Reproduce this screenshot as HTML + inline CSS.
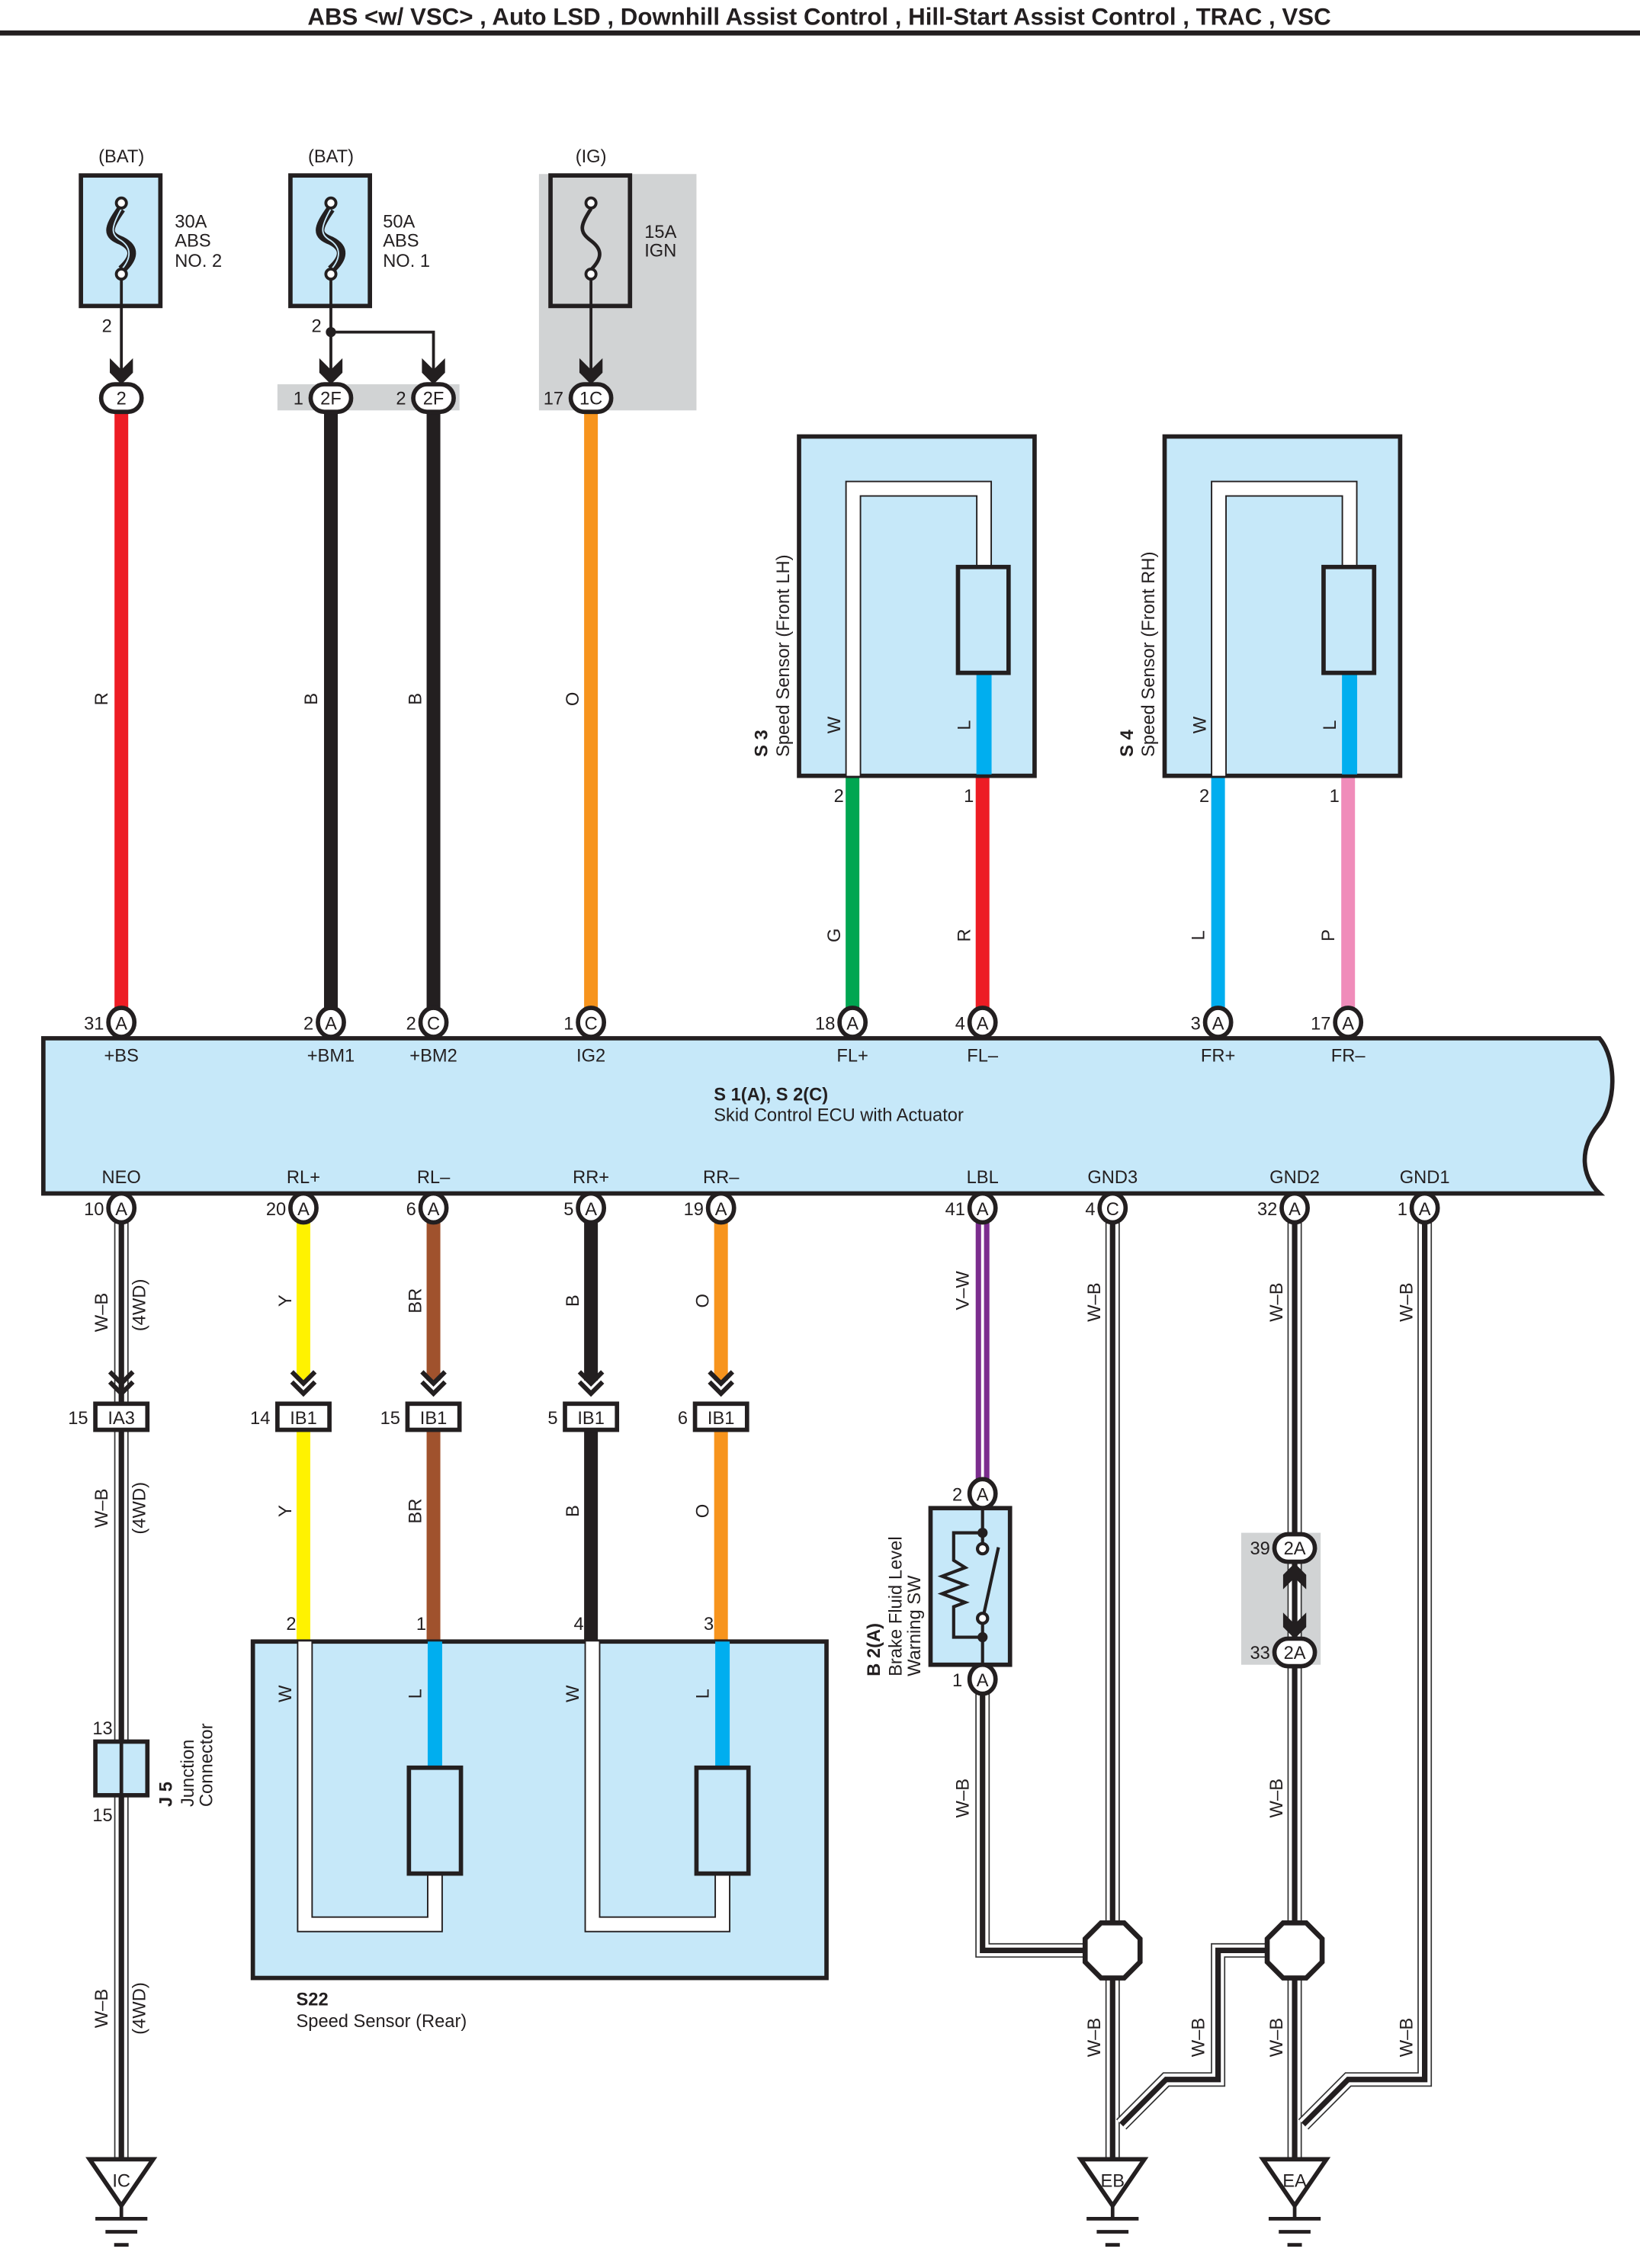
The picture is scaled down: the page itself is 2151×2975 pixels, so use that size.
<!DOCTYPE html>
<html><head><meta charset="utf-8">
<style>
html,body{margin:0;padding:0;background:#fff;}
svg{display:block;}
text{font-family:"Liberation Sans",Arial,sans-serif;font-size:12.5px;fill:#231f20;}
.b{font-weight:bold;}
.m{text-anchor:middle;}
.e{text-anchor:end;}
.bx{fill:#c6e8f9;stroke:#231f20;stroke-width:3;}
.cn ellipse,.cn rect{fill:#fff;stroke:#231f20;stroke-width:3;}
.wb1{fill:none;stroke:#333;stroke-width:10;}
.wb2{fill:none;stroke:#fff;stroke-width:8.2;}
.wb3{fill:none;stroke:#231f20;stroke-width:3.8;}
.chev{fill:none;stroke:#231f20;stroke-width:3.2;}
</style></head>
<body>
<svg width="2151" height="2975" viewBox="0 0 1135 1564" preserveAspectRatio="none" xmlns="http://www.w3.org/2000/svg">
<!-- title -->
<text x="567" y="17" class="b m" style="font-size:16.5px">ABS &lt;w/ VSC&gt; , Auto LSD , Downhill Assist Control , Hill-Start Assist Control , TRAC , VSC</text>
<rect x="0" y="21" width="1135" height="3.5" fill="#231f20"/>

<!-- gray backgrounds -->
<rect x="192" y="265" width="126" height="18" fill="#d1d3d4"/>
<rect x="373" y="120" width="109" height="163" fill="#d1d3d4"/>
<rect x="859" y="1057" width="55" height="91" fill="#d1d3d4"/>

<!-- fuses -->
<text x="84" y="112" class="m">(BAT)</text>
<text x="229" y="112" class="m">(BAT)</text>
<text x="409" y="112" class="m">(IG)</text>
<rect x="56" y="121" width="55" height="90" class="bx"/>
<rect x="201" y="121" width="55" height="90" class="bx"/>
<rect x="381" y="121" width="55" height="90" fill="#d1d3d4" stroke="#231f20" stroke-width="3"/>
<text x="121" y="157">30A</text><text x="121" y="170">ABS</text><text x="121" y="184">NO. 2</text>
<text x="265" y="157">50A</text><text x="265" y="170">ABS</text><text x="265" y="184">NO. 1</text>
<text x="446" y="164">15A</text><text x="446" y="177">IGN</text>
<g fill="none" stroke="#231f20">
<path d="M84,144 C74,158 74,162 84,166 C94,171 93,178 84,186" stroke-width="6"/>
<path d="M84,144 C76,158 77,162 84,166 C91,171 91,178 84,186" stroke="#c6e8f9" stroke-width="1"/>
<path d="M229,144 C219,158 219,162 229,166 C239,171 238,178 229,186" stroke-width="6"/>
<path d="M229,144 C221,158 222,162 229,166 C236,171 236,178 229,186" stroke="#c6e8f9" stroke-width="1"/>
<path d="M409,144 C401,156 401,160 409,166 C417,172 417,178 409,186" stroke-width="2.5"/>
<circle cx="84" cy="140" r="3.5" fill="#fff" stroke-width="2"/><circle cx="84" cy="189" r="3.5" fill="#fff" stroke-width="2"/>
<circle cx="229" cy="140" r="3.5" fill="#fff" stroke-width="2"/><circle cx="229" cy="189" r="3.5" fill="#fff" stroke-width="2"/>
<circle cx="409" cy="140" r="3.5" fill="#fff" stroke-width="2"/><circle cx="409" cy="189" r="3.5" fill="#fff" stroke-width="2"/>
<path d="M84,193 V258 M229,193 V258 M229,229 H300 V258 M409,193 V258" stroke-width="2"/>
</g>
<circle cx="229" cy="229" r="3.5" fill="#231f20"/>
<text x="74" y="229" class="m">2</text><text x="219" y="229" class="m">2</text>
<g fill="#231f20">
<polygon points="76,247 84,255 92,247 92,257 84,265 76,257"/>
<polygon points="221,247 229,255 237,247 237,257 229,265 221,257"/>
<polygon points="292,247 300,255 308,247 308,257 300,265 292,257"/>
<polygon points="401,247 409,255 417,247 417,257 409,265 401,257"/>
</g>

<!-- top wires -->
<g stroke-width="9.5" fill="none">
<path d="M84,282 V697" stroke="#ed1c24"/>
<path d="M229,282 V697" stroke="#231f20"/>
<path d="M300,282 V697" stroke="#231f20"/>
<path d="M409,282 V697" stroke="#f7941d"/>
<path d="M590,536 V697" stroke="#00a651"/>
<path d="M680,536 V697" stroke="#ed1c24"/>
<path d="M843,536 V697" stroke="#00aeef"/>
<path d="M933,536 V697" stroke="#f08cba"/>
</g>
<!-- top connector pills -->
<g class="cn">
<rect x="70" y="265" width="28" height="19" rx="9.5"/>
<rect x="215" y="265" width="28" height="19" rx="9.5"/>
<rect x="286" y="265" width="28" height="19" rx="9.5"/>
<rect x="395" y="265" width="28" height="19" rx="9.5"/>
</g>
<text x="84" y="279" class="m">2</text>
<text x="229" y="279" class="m">2F</text><text x="210" y="279" class="e">1</text>
<text x="300" y="279" class="m">2F</text><text x="281" y="279" class="e">2</text>
<text x="409" y="279" class="m">1C</text><text x="390" y="279" class="e">17</text>

<!-- wire labels top -->
<g>
<text transform="translate(74.5,482) rotate(-90)" class="m">R</text>
<text transform="translate(219.5,482) rotate(-90)" class="m">B</text>
<text transform="translate(291.5,482) rotate(-90)" class="m">B</text>
<text transform="translate(400.5,482) rotate(-90)" class="m">O</text>
<text transform="translate(581.5,645) rotate(-90)" class="m">G</text>
<text transform="translate(671.5,645) rotate(-90)" class="m">R</text>
<text transform="translate(833.5,645) rotate(-90)" class="m">L</text>
<text transform="translate(923.5,645) rotate(-90)" class="m">P</text>
</g>

<!-- S3 / S4 sensors -->
<g id="s3">
<rect x="553" y="301" width="163" height="234" class="bx"/>
<path d="M590.5,535 V337 H681 V391" fill="none" stroke="#231f20" stroke-width="11"/>
<path d="M590.5,535 V337 H681 V391" fill="none" stroke="#fff" stroke-width="9"/>
<path d="M681,464 V534" stroke="#00aeef" stroke-width="10.5"/>
<rect x="663" y="391" width="35" height="73" class="bx"/>
<text transform="translate(581.5,500) rotate(-90)" class="m">W</text>
<text transform="translate(671.5,500) rotate(-90)" class="m">L</text>
<text x="584" y="553" class="e">2</text><text x="674" y="553" class="e">1</text>
</g>
<text transform="translate(531,522) rotate(-90)" class="b">S 3</text>
<text transform="translate(546,522) rotate(-90)">Speed Sensor (Front LH)</text>
<g>
<rect x="806" y="301" width="163" height="234" class="bx"/>
<path d="M843.5,535 V337 H934 V391" fill="none" stroke="#231f20" stroke-width="11"/>
<path d="M843.5,535 V337 H934 V391" fill="none" stroke="#fff" stroke-width="9"/>
<path d="M934,464 V534" stroke="#00aeef" stroke-width="10.5"/>
<rect x="916" y="391" width="35" height="73" class="bx"/>
<text transform="translate(834.5,500) rotate(-90)" class="m">W</text>
<text transform="translate(924.5,500) rotate(-90)" class="m">L</text>
<text x="837" y="553" class="e">2</text><text x="927" y="553" class="e">1</text>
</g>
<text transform="translate(784,522) rotate(-90)" class="b">S 4</text>
<text transform="translate(799,522) rotate(-90)">Speed Sensor (Front RH)</text>

<!-- ECU -->
<path d="M30,716 H1107 C1119,730 1119,762 1106,776 C1094,790 1093,810 1107,823 H30 Z" class="bx"/>
<g>
<text x="84" y="732" class="m">+BS</text>
<text x="229" y="732" class="m">+BM1</text>
<text x="300" y="732" class="m">+BM2</text>
<text x="409" y="732" class="m">IG2</text>
<text x="590" y="732" class="m">FL+</text>
<text x="680" y="732" class="m">FL–</text>
<text x="843" y="732" class="m">FR+</text>
<text x="933" y="732" class="m">FR–</text>
<text x="494" y="759" class="b">S 1(A), S 2(C)</text>
<text x="494" y="773">Skid Control ECU with Actuator</text>
<text x="84" y="816" class="m">NEO</text>
<text x="210" y="816" class="m">RL+</text>
<text x="300" y="816" class="m">RL–</text>
<text x="409" y="816" class="m">RR+</text>
<text x="499" y="816" class="m">RR–</text>
<text x="680" y="816" class="m">LBL</text>
<text x="770" y="816" class="m">GND3</text>
<text x="896" y="816" class="m">GND2</text>
<text x="986" y="816" class="m">GND1</text>
</g>

<!-- lower wires -->
<g fill="none">
<!-- W-B wires -->
<path d="M84,843 V1490" class="wb1"/><path d="M84,843 V1490" class="wb2"/><path d="M84,843 V1490" class="wb3"/>
<path d="M770,843 V1490" class="wb1"/><path d="M770,843 V1490" class="wb2"/><path d="M770,843 V1490" class="wb3"/>
<path d="M896,843 V1490" class="wb1"/><path d="M896,843 V1490" class="wb2"/><path d="M896,843 V1490" class="wb3"/>
<path d="M680,1166 V1345 H755" class="wb1"/><path d="M680,1166 V1345 H755" class="wb2"/><path d="M680,1166 V1345 H755" class="wb3"/>
<path d="M880,1345 H843 V1434 H807 L776,1465" class="wb1"/><path d="M880,1345 H843 V1434 H807 L776,1465" class="wb2"/><path d="M880,1345 H843 V1434 H807 L776,1465" class="wb3"/>
<path d="M986,843 V1434 H933 L902,1465" class="wb1"/><path d="M986,843 V1434 H933 L902,1465" class="wb2"/><path d="M986,843 V1434 H933 L902,1465" class="wb3"/>
<!-- colored -->
<g stroke-width="9.5">
<path d="M210,843 V952 M210,986 V1131" stroke="#fff200"/>
<path d="M300,843 V952 M300,986 V1131" stroke="#a0522d"/>
<path d="M409,843 V952 M409,986 V1131" stroke="#231f20"/>
<path d="M499,843 V952 M499,986 V1131" stroke="#f7941d"/>
<path d="M680,843 V1022" stroke="#7b2d8e"/>
</g>
<path d="M680,843 V1022" stroke="#fff" stroke-width="2"/>
<path d="M210,1131 V1218 M300,1131 V1218 M409,1131 V1218 M499,1131 V1218" stroke="#00aeef" stroke-width="10"/>
</g>

<!-- chevrons -->
<g class="chev">
<path d="M76,946 L84,954 L92,946 M76,953 L84,961 L92,953"/>
<path d="M202,946 L210,954 L218,946 M202,953 L210,961 L218,953"/>
<path d="M292,946 L300,954 L308,946 M292,953 L300,961 L308,953"/>
<path d="M401,946 L409,954 L417,946 M401,953 L409,961 L417,953"/>
<path d="M491,946 L499,954 L507,946 M491,953 L499,961 L507,953"/>
</g>
<!-- IA3 / IB1 boxes -->
<g class="cn">
<rect x="66" y="968" width="36" height="18"/>
<rect x="192" y="968" width="36" height="18"/>
<rect x="282" y="968" width="36" height="18"/>
<rect x="391" y="968" width="36" height="18"/>
<rect x="481" y="968" width="36" height="18"/>
</g>
<text x="84" y="982" class="m">IA3</text><text x="61" y="982" class="e">15</text>
<text x="210" y="982" class="m">IB1</text><text x="187" y="982" class="e">14</text>
<text x="300" y="982" class="m">IB1</text><text x="277" y="982" class="e">15</text>
<text x="409" y="982" class="m">IB1</text><text x="386" y="982" class="e">5</text>
<text x="499" y="982" class="m">IB1</text><text x="476" y="982" class="e">6</text>

<!-- ECU pin connectors -->
<g class="cn">
<ellipse cx="84" cy="705" rx="9" ry="10"/><ellipse cx="229" cy="705" rx="9" ry="10"/><ellipse cx="300" cy="705" rx="9" ry="10"/><ellipse cx="409" cy="705" rx="9" ry="10"/>
<ellipse cx="590" cy="705" rx="9" ry="10"/><ellipse cx="680" cy="705" rx="9" ry="10"/><ellipse cx="843" cy="705" rx="9" ry="10"/><ellipse cx="933" cy="705" rx="9" ry="10"/>
<ellipse cx="84" cy="833" rx="9" ry="10"/><ellipse cx="210" cy="833" rx="9" ry="10"/><ellipse cx="300" cy="833" rx="9" ry="10"/><ellipse cx="409" cy="833" rx="9" ry="10"/>
<ellipse cx="499" cy="833" rx="9" ry="10"/><ellipse cx="680" cy="833" rx="9" ry="10"/><ellipse cx="770" cy="833" rx="9" ry="10"/><ellipse cx="896" cy="833" rx="9" ry="10"/><ellipse cx="986" cy="833" rx="9" ry="10"/>
<ellipse cx="680" cy="1030" rx="9" ry="10"/><ellipse cx="680" cy="1158" rx="9" ry="10"/>
<rect x="882" y="1058" width="28" height="19" rx="9.5"/><rect x="882" y="1130" width="28" height="19" rx="9.5"/>
</g>
<g>
<text x="84" y="710" class="m">A</text><text x="72" y="710" class="e">31</text>
<text x="229" y="710" class="m">A</text><text x="217" y="710" class="e">2</text>
<text x="300" y="710" class="m">C</text><text x="288" y="710" class="e">2</text>
<text x="409" y="710" class="m">C</text><text x="397" y="710" class="e">1</text>
<text x="590" y="710" class="m">A</text><text x="578" y="710" class="e">18</text>
<text x="680" y="710" class="m">A</text><text x="668" y="710" class="e">4</text>
<text x="843" y="710" class="m">A</text><text x="831" y="710" class="e">3</text>
<text x="933" y="710" class="m">A</text><text x="921" y="710" class="e">17</text>
<text x="84" y="838" class="m">A</text><text x="72" y="838" class="e">10</text>
<text x="210" y="838" class="m">A</text><text x="198" y="838" class="e">20</text>
<text x="300" y="838" class="m">A</text><text x="288" y="838" class="e">6</text>
<text x="409" y="838" class="m">A</text><text x="397" y="838" class="e">5</text>
<text x="499" y="838" class="m">A</text><text x="487" y="838" class="e">19</text>
<text x="680" y="838" class="m">A</text><text x="668" y="838" class="e">41</text>
<text x="770" y="838" class="m">C</text><text x="758" y="838" class="e">4</text>
<text x="896" y="838" class="m">A</text><text x="884" y="838" class="e">32</text>
<text x="986" y="838" class="m">A</text><text x="974" y="838" class="e">1</text>
<text x="680" y="1035" class="m">A</text><text x="666" y="1035" class="e">2</text>
<text x="680" y="1163" class="m">A</text><text x="666" y="1163" class="e">1</text>
<text x="896" y="1072" class="m">2A</text><text x="879" y="1072" class="e">39</text>
<text x="896" y="1144" class="m">2A</text><text x="879" y="1144" class="e">33</text>
</g>
<!-- double arrow between 2A -->
<path d="M896,1086 V1122" stroke="#231f20" stroke-width="2"/>
<polygon points="896,1078 904,1086 904,1096 896,1088 888,1096 888,1086" fill="#231f20"/>
<polygon points="896,1130 904,1122 904,1112 896,1120 888,1112 888,1122" fill="#231f20"/>

<!-- lower wire labels -->
<g>
<text transform="translate(74.5,905) rotate(-90)" class="m">W–B</text>
<text transform="translate(100.5,900) rotate(-90)" class="m">(4WD)</text>
<text transform="translate(74.5,1040) rotate(-90)" class="m">W–B</text>
<text transform="translate(100.5,1040) rotate(-90)" class="m">(4WD)</text>
<text transform="translate(74.5,1385) rotate(-90)" class="m">W–B</text>
<text transform="translate(100.5,1385) rotate(-90)" class="m">(4WD)</text>
<text transform="translate(201.5,897) rotate(-90)" class="m">Y</text>
<text transform="translate(291.5,897) rotate(-90)" class="m">BR</text>
<text transform="translate(400.5,897) rotate(-90)" class="m">B</text>
<text transform="translate(490.5,897) rotate(-90)" class="m">O</text>
<text transform="translate(201.5,1042) rotate(-90)" class="m">Y</text>
<text transform="translate(291.5,1042) rotate(-90)" class="m">BR</text>
<text transform="translate(400.5,1042) rotate(-90)" class="m">B</text>
<text transform="translate(490.5,1042) rotate(-90)" class="m">O</text>
<text transform="translate(670.5,890) rotate(-90)" class="m">V–W</text>
<text transform="translate(761.5,898) rotate(-90)" class="m">W–B</text>
<text transform="translate(887.5,898) rotate(-90)" class="m">W–B</text>
<text transform="translate(977.5,898) rotate(-90)" class="m">W–B</text>
<text transform="translate(670.5,1240) rotate(-90)" class="m">W–B</text>
<text transform="translate(887.5,1240) rotate(-90)" class="m">W–B</text>
<text transform="translate(761.5,1405) rotate(-90)" class="m">W–B</text>
<text transform="translate(833.5,1405) rotate(-90)" class="m">W–B</text>
<text transform="translate(887.5,1405) rotate(-90)" class="m">W–B</text>
<text transform="translate(977.5,1405) rotate(-90)" class="m">W–B</text>
</g>

<!-- J5 -->
<rect x="66" y="1201" width="36" height="37" class="bx"/>
<path d="M84,1201 V1238" stroke="#231f20" stroke-width="2.5"/>
<text x="71" y="1196" class="m">13</text><text x="71" y="1256" class="m">15</text>
<text transform="translate(119,1246) rotate(-90)" class="b">J 5</text>
<text transform="translate(134,1246) rotate(-90)">Junction</text>
<text transform="translate(147,1246) rotate(-90)">Connector</text>

<!-- S22 -->
<rect x="175" y="1132" width="397" height="232" class="bx"/>
<path d="M211,1132 V1327 H301 V1292" fill="none" stroke="#231f20" stroke-width="11"/>
<path d="M211,1132 V1327 H301 V1292" fill="none" stroke="#fff" stroke-width="9"/>
<path d="M410,1132 V1327 H500 V1292" fill="none" stroke="#231f20" stroke-width="11"/>
<path d="M410,1132 V1327 H500 V1292" fill="none" stroke="#fff" stroke-width="9"/>
<path d="M301,1132 V1219 M500,1132 V1219" stroke="#00aeef" stroke-width="10"/>
<rect x="283" y="1219" width="36" height="73" class="bx"/>
<rect x="482" y="1219" width="36" height="73" class="bx"/>
<text x="205" y="1124" class="e">2</text><text x="295" y="1124" class="e">1</text>
<text x="404" y="1124" class="e">4</text><text x="494" y="1124" class="e">3</text>
<text transform="translate(201.5,1168) rotate(-90)" class="m">W</text>
<text transform="translate(291.5,1168) rotate(-90)" class="m">L</text>
<text transform="translate(400.5,1168) rotate(-90)" class="m">W</text>
<text transform="translate(490.5,1168) rotate(-90)" class="m">L</text>
<text x="205" y="1383" class="b">S22</text>
<text x="205" y="1398">Speed Sensor (Rear)</text>

<!-- B2 switch -->
<rect x="644" y="1040" width="55" height="108" class="bx"/>
<g fill="none" stroke="#231f20" stroke-width="2.2">
<path d="M680,1040 V1064 M680,1120 V1148"/>
<path d="M680,1057 H660 V1076 L668,1081 L652,1087 L668,1093 L652,1099 L668,1105 L660,1108 V1129 H680"/>
<path d="M680,1117 L691,1067"/>
<circle cx="680" cy="1068" r="3.5" fill="#fff"/>
<circle cx="680" cy="1116" r="3.5" fill="#fff"/>
</g>
<circle cx="680" cy="1057" r="3.5" fill="#231f20"/>
<circle cx="680" cy="1129" r="3.5" fill="#231f20"/>
<text transform="translate(609,1156) rotate(-90)" class="b">B 2(A)</text>
<text transform="translate(624,1156) rotate(-90)">Brake Fluid Level</text>
<text transform="translate(637,1156) rotate(-90)">Warning SW</text>

<!-- octagons -->
<polygon points="762,1326 778,1326 789,1337 789,1353 778,1364 762,1364 751,1353 751,1337" fill="#fff" stroke="#231f20" stroke-width="3.5"/>
<polygon points="888,1326 904,1326 915,1337 915,1353 904,1364 888,1364 877,1353 877,1337" fill="#fff" stroke="#231f20" stroke-width="3.5"/>

<!-- grounds -->
<g fill="#fff" stroke="#231f20" stroke-width="3">
<polygon points="62,1489 106,1489 84,1521"/>
<polygon points="748,1489 792,1489 770,1521"/>
<polygon points="874,1489 918,1489 896,1521"/>
</g>
<g stroke="#231f20" stroke-width="2.5">
<path d="M84,1521 V1530 M66,1530 H102 M73,1539 H95 M79,1548 H89"/>
<path d="M770,1521 V1530 M752,1530 H788 M759,1539 H781 M765,1548 H775"/>
<path d="M896,1521 V1530 M878,1530 H914 M885,1539 H907 M891,1548 H901"/>
</g>
<text x="84" y="1508" class="m">IC</text>
<text x="770" y="1508" class="m">EB</text>
<text x="896" y="1508" class="m">EA</text>
</svg>
</body></html>
